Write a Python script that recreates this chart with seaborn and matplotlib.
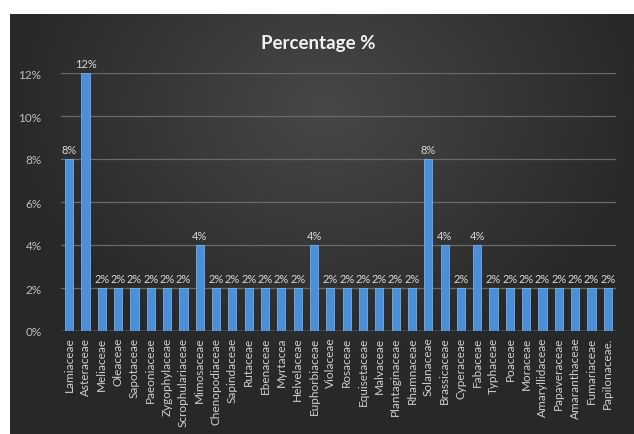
import numpy as np
import pandas as pd
import matplotlib
matplotlib.use("Agg")
import matplotlib.pyplot as plt
import seaborn as sns

families = ["Lamiaceae", "Asteraceae", "Meliaceae", "Oleaceae", "Sapotaceae", "Paeoniaceae",
            "Zygophylaceae", "Scrophulariaceae", "Mimosaceae", "Chenopodiaceae", "Sapindaceae",
            "Rutaceae", "Ebenaceae", "Myrtacea", "Helvelaceae", "Euphorbiaceae", "Violaceae",
            "Rosaceae", "Equisetaceae", "Malvaceae", "Plantaginaceae", "Rhamnaceae", "Solanaceae",
            "Brassicaceae", "Cyperaceae", "Fabaceae", "Typhaceae", "Poaceae", "Moraceae",
            "Amaryllidaceae", "Papaveraceae", "Amaranthaceae", "Fumariaceae", "Papilonaceae."]
percentages = [8, 12, 2, 2, 2, 2, 2, 2, 4, 2, 2, 2, 2, 2, 2, 4, 2, 2, 2, 2, 2, 2, 8,
               4, 2, 4, 2, 2, 2, 2, 2, 2, 2, 2]
y_ticks = [0, 2, 4, 6, 8, 10, 12]

df = pd.DataFrame({"Family": families, "Percentage": percentages})

sns.set_theme(style="white")
plt.rcParams["font.family"] = ["Lato", "DejaVu Sans"]

W, H = 634, 435
fig = plt.figure(figsize=(W / 100, H / 100), dpi=100)
fig.patch.set_facecolor("white")

# dark background panel with soft radial gradient
bg = fig.add_axes([10 / W, -0.01, 1 - 10 / W + 0.01, 420 / H + 0.01])
bg.set_axis_off()
gx = np.linspace(-1, 1, 400)
gy = np.linspace(-1, 1, 300)
X, Y = np.meshgrid(gx, gy)
R = np.sqrt((X / 1.0) ** 2 + ((Y + 0.55) / 1.2) ** 2)
light = np.clip(1 - R, 0, 1)
base = 0.16 + 0.12 * light
img = np.dstack([base, base, base])
bg.imshow(img, aspect="auto", extent=[0, 1, 0, 1], origin="upper")
bg.set_xlim(0, 1)
bg.set_ylim(0, 1)

left = 61 / W
right = 616 / W
bottom = (H - 332) / H
top = (H - 74) / H
ax = fig.add_axes([left, bottom, right - left, top - bottom])
ax.set_facecolor("none")

sns.barplot(data=df, x="Family", y="Percentage", color="#4a8fd8", width=0.5,
            saturation=1, ax=ax, zorder=3)
for p in ax.patches:
    p.set_edgecolor("#6fb0ee")
    p.set_linewidth(0.6)

ax.set_ylim(0, 12)
ax.set_xlim(-0.5, len(families) - 0.5)
ax.set_yticks(y_ticks)
ax.set_yticklabels([f"{v}%" for v in y_ticks])
ax.yaxis.grid(True, color="#6a6a6a", linewidth=0.9, zorder=0)
ax.xaxis.grid(False)
for s in ax.spines.values():
    s.set_visible(False)
ax.axhline(0, color="#8a8a8a", linewidth=1.0, zorder=2)

ax.tick_params(axis="y", colors="#bfbfbf", labelsize=8.5, length=0, pad=14)
ax.tick_params(axis="x", colors="#d0d0d0", labelsize=8.5, length=0, pad=4)
plt.setp(ax.get_xticklabels(), rotation=90)
ax.set_xlabel("")
ax.set_ylabel("")

ax.bar_label(ax.containers[0], labels=[f"{v}%" for v in percentages],
             color="#d9d9d9", fontsize=8, padding=3)

fig.text(318 / W, (H - 44) / H, "Percentage %", ha="center", va="center",
         color="#f2f2f2", fontsize=13.5, fontweight="bold")

fig.savefig("out.png", dpi=100, facecolor="white")
